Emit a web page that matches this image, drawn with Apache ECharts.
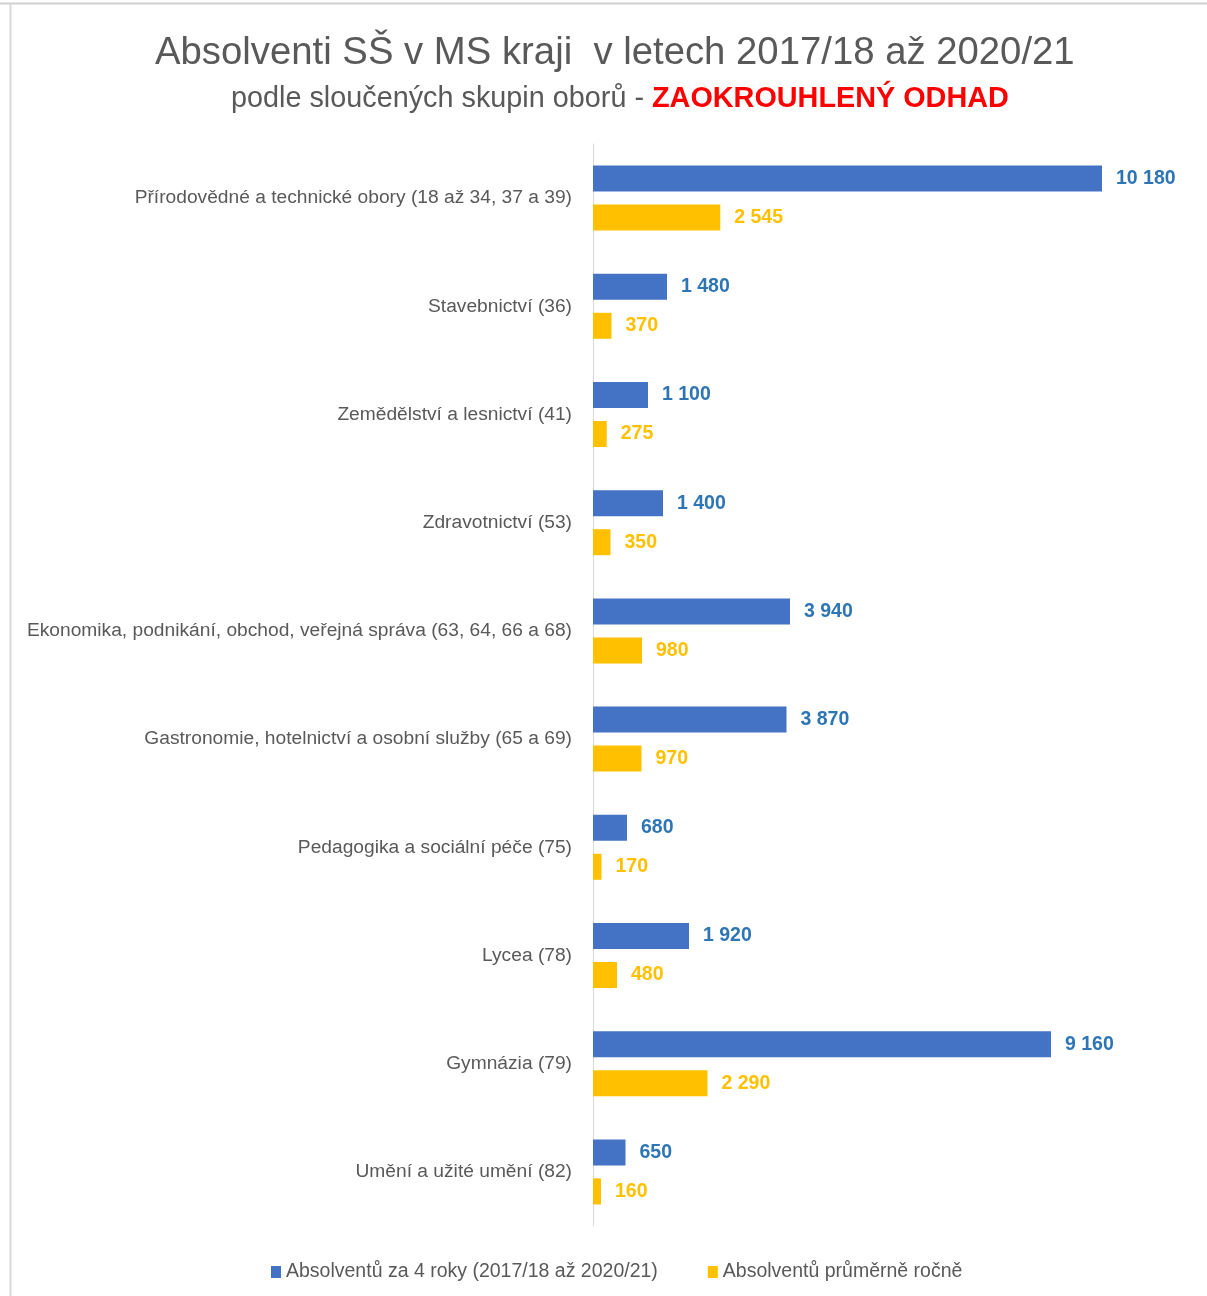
<!DOCTYPE html>
<html>
<head>
<meta charset="utf-8">
<script src="https://cdn.jsdelivr.net/npm/echarts@6/dist/echarts.min.js"></script>
<style>
html,body{margin:0;padding:0;background:#fff;}
#chart{width:1207px;height:1296px;}
</style>
</head>
<body>
<div id="chart"></div>
<script>
const categories = [
  'Přírodovědné a technické obory (18 až 34, 37 a 39)',
  'Stavebnictví (36)',
  'Zemědělství a lesnictví (41)',
  'Zdravotnictví (53)',
  'Ekonomika, podnikání, obchod, veřejná správa (63, 64, 66 a 68)',
  'Gastronomie, hotelnictví a osobní služby (65 a 69)',
  'Pedagogika a sociální péče (75)',
  'Lycea (78)',
  'Gymnázia (79)',
  'Umění a užité umění (82)'
];
const total4Years = [10180, 1480, 1100, 1400, 3940, 3870, 680, 1920, 9160, 650];
const avgPerYear = [2545, 370, 275, 350, 980, 970, 170, 480, 2290, 160];
const seriesNames = ['Absolventů za 4 roky (2017/18 až 2020/21)', 'Absolventů průměrně ročně'];

function fmt(v){ return String(v).replace(/\B(?=(\d{3})+(?!\d))/g, ' '); }

const FONT = 'Liberation Sans';
const chart = echarts.init(document.getElementById('chart'), null, {renderer:'canvas'});
chart.setOption({
  backgroundColor:'#ffffff',
  animation:false,
  title:[
    {
      left:150, top:29,
      text:'Absolventi SŠ v MS kraji  v letech 2017/18 až 2020/21',
      textStyle:{fontFamily:FONT, fontSize:38.3, fontWeight:'normal', color:'#595959'}
    },
    {
      left:226, top:80,
      text:'{a|podle sloučených skupin oborů - }{b|ZAOKROUHLENÝ ODHAD}',
      textStyle:{
        fontFamily:FONT, fontSize:28.8, fontWeight:'normal', color:'#595959',
        rich:{
          a:{fontFamily:FONT, fontSize:28.8, fontWeight:'normal', color:'#595959'},
          b:{fontFamily:FONT, fontSize:28.8, color:'#FF0000', fontWeight:'bold'}
        }
      }
    }
  ],
  legend:{
    bottom:9, left:266, itemWidth:10, itemHeight:12, itemGap:50, icon:'rect',
    textStyle:{fontFamily:FONT, fontSize:19.5, color:'#595959'},
    data:seriesNames
  },
  grid:{left:593, right:14, top:144, bottom:70, containLabel:false},
  xAxis:{type:'value', min:0, max:12000, show:false},
  yAxis:{
    type:'category', data:categories, inverse:true,
    axisLine:{show:true, lineStyle:{color:'#d9d9d9', width:1}},
    axisTick:{show:false},
    axisLabel:{margin:21, fontFamily:FONT, fontSize:19.2, color:'#595959'}
  },
  series:[
    {
      name:seriesNames[0], type:'bar', data:total4Years, barWidth:26, barGap:'50%',
      itemStyle:{color:'#4472C4'},
      label:{show:true, position:'right', distance:14, formatter:p=>fmt(p.value),
        fontFamily:FONT, fontSize:19.5, fontWeight:'bold', color:'#2E75B6'}
    },
    {
      name:seriesNames[1], type:'bar', data:avgPerYear, barWidth:26,
      itemStyle:{color:'#FFC000'},
      label:{show:true, position:'right', distance:14, formatter:p=>fmt(p.value),
        fontFamily:FONT, fontSize:19.5, fontWeight:'bold', color:'#FFC000'}
    }
  ],
  graphic:[
    {type:'line', shape:{x1:0, y1:3.5, x2:1207, y2:3.5}, style:{stroke:'#d0d0d0', lineWidth:2}},
    {type:'line', shape:{x1:10.5, y1:4, x2:10.5, y2:1296}, style:{stroke:'#d9d9d9', lineWidth:2}}
  ]
});
</script>
</body>
</html>
